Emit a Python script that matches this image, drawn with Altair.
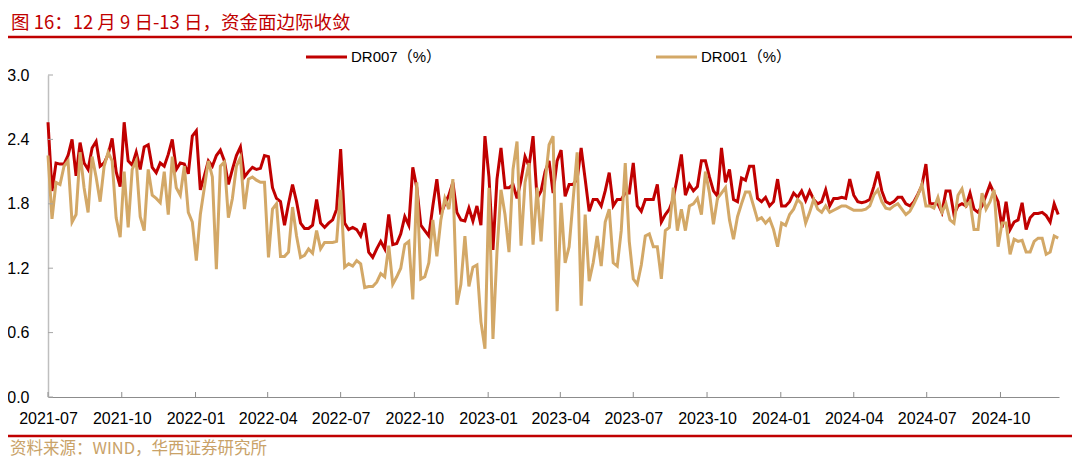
import altair as alt
import pandas as pd

TITLE = "图 16：12 月 9 日-13 日，资金面边际收敛"
SOURCE = "资料来源：WIND，华西证券研究所"
SERIES = ["DR007（%）", "DR001（%）"]
COLORS = ["#C00000", "#D3A867"]
START = "2021-07-01"
END = "2024-12-13"
STEP = "5D"
Y_TICKS = [0.0, 0.6, 1.2, 1.8, 2.4, 3.0]
X_TICKS = ["2021-07", "2021-10", "2022-01", "2022-04", "2022-07", "2022-10", "2023-01",
           "2023-04", "2023-07", "2023-10", "2024-01", "2024-04", "2024-07", "2024-10"]

dr007 = [
    2.56, 1.92, 2.18, 2.17, 2.17, 2.25, 2.40, 2.06, 2.37, 2.18,
    2.12, 2.32, 2.38, 2.15, 2.18, 2.26, 2.41, 2.10, 1.96, 2.56,
    2.20, 2.16, 2.28, 2.12, 2.33, 2.35, 2.14, 2.09, 2.18, 2.15,
    2.26, 2.40, 2.12, 2.18, 2.17, 2.08, 2.43, 2.48, 1.93, 2.06,
    2.20, 2.15, 2.25, 2.30, 2.20, 1.98, 2.12, 2.25, 2.33, 2.05,
    2.10, 2.14, 2.12, 2.13, 2.25, 2.24, 1.95, 1.85, 1.82, 1.60,
    1.80, 1.98, 1.82, 1.62, 1.57, 1.57, 1.60, 1.84, 1.62, 1.58,
    1.62, 1.65, 1.75, 2.31, 1.62, 1.56, 1.58, 1.56, 1.50, 1.62,
    1.35, 1.30, 1.38, 1.45, 1.38, 1.70, 1.42, 1.43,
    1.52, 1.68, 1.60, 2.14, 1.95, 1.60, 1.55, 1.50, 1.78, 2.03,
    1.70, 1.80, 1.88, 2.00, 1.72, 1.65, 1.64, 1.76, 1.64, 1.78,
    1.60, 2.43, 2.05, 1.37, 2.03, 2.32, 1.95, 1.95, 1.98, 1.85,
    2.02, 2.24, 2.15, 2.43, 1.85, 1.92, 2.10, 2.20, 1.90, 2.20,
    2.30, 1.87, 1.98, 1.98, 2.03, 2.32, 2.03, 1.73, 1.84, 1.84,
    1.78, 1.92, 2.09, 1.78, 1.84, 1.84, 1.90, 1.90, 2.18, 1.78,
    1.73, 1.84, 1.84, 1.84, 1.98, 1.63, 1.70, 1.75, 1.85, 2.05,
    2.26, 1.88, 1.98, 1.92, 1.96, 2.20, 2.20, 2.05, 1.92, 1.87,
    2.32, 2.00, 2.12, 1.84, 1.82, 2.04, 2.02, 2.15, 2.15, 1.85,
    1.82, 1.86, 1.78, 1.82, 2.03, 1.78, 1.78, 1.82, 1.90, 1.86,
    1.92, 1.83, 1.92, 1.84, 1.80, 1.82, 1.93, 1.78, 1.85, 1.85,
    1.86, 1.85, 2.03, 1.88, 1.82, 1.81, 1.82, 1.84, 1.96, 2.10,
    1.92, 1.82, 1.80, 1.82, 1.86, 1.86, 1.80, 1.78, 1.82, 1.89,
    1.97, 2.17, 1.80, 1.80, 1.80, 1.72, 1.92, 1.92, 1.70, 1.78,
    1.80, 1.78, 1.90, 1.75, 1.72, 1.78, 1.88, 1.98, 1.90, 1.82,
    1.58, 1.82, 1.56, 1.63, 1.65, 1.81, 1.56, 1.67, 1.71, 1.71,
    1.72, 1.69, 1.63, 1.80, 1.70,
]

dr001 = [
    2.25, 1.66, 2.00, 1.98, 2.15, 2.20, 1.63, 1.70, 2.28, 1.95,
    1.72, 2.24, 2.05, 1.82, 2.15, 2.28, 2.20, 1.67, 1.49, 2.10,
    1.58, 2.12, 2.20, 1.68, 1.55, 2.12, 1.88, 1.85, 1.81, 2.10,
    1.70, 2.24, 1.95, 1.88, 2.15, 1.72, 1.63, 1.27, 1.70, 1.95,
    2.20, 2.05, 1.19, 2.15, 2.19, 1.67, 1.85, 2.15, 2.23, 1.75,
    2.03, 2.05, 2.02, 2.00, 2.00, 1.30, 1.75, 1.80, 1.31, 1.31,
    1.35, 1.77, 1.50, 1.30, 1.32, 1.38, 1.34, 1.55, 1.38, 1.44,
    1.44, 1.44, 1.45, 1.93, 1.21, 1.24, 1.22, 1.27, 1.24, 1.02,
    1.03, 1.03, 1.07, 1.15, 1.12, 1.41, 1.05, 1.12,
    1.20, 1.42, 1.45, 0.91, 2.00, 1.10, 1.12, 1.25, 1.65, 1.31,
    1.65, 1.85, 1.75, 2.03, 0.86, 1.05, 1.50, 1.03, 1.21, 1.23,
    0.70, 0.45, 1.95, 0.54, 1.35, 1.93, 1.70, 1.35, 2.12, 2.38,
    1.41, 2.00, 2.18, 1.42, 1.95, 1.45, 2.00, 2.35, 2.43, 0.80,
    1.81, 1.25, 1.40, 1.84, 2.28, 0.85, 1.70, 1.08, 1.25, 1.50,
    1.22, 1.63, 1.75, 1.25, 1.22, 1.55, 2.18, 1.45, 1.10, 1.05,
    1.23, 1.50, 1.52, 1.40, 1.40, 1.10, 1.55, 1.58, 1.95, 1.55,
    1.75, 1.55, 1.78, 1.80, 1.85, 1.70, 2.10, 1.90, 1.61, 1.85,
    1.90, 1.95, 1.65, 1.47, 1.68, 1.80, 1.91, 1.91, 1.78, 1.65,
    1.67, 1.62, 1.66, 1.56, 1.40, 1.62, 1.60, 1.70, 1.75, 1.84,
    1.80, 1.62, 1.72, 1.84, 1.75, 1.72, 1.78, 1.72, 1.74, 1.76,
    1.78, 1.78, 1.76, 1.74, 1.74, 1.74, 1.75, 1.78, 1.88, 1.93,
    1.82, 1.76, 1.75, 1.78, 1.80, 1.75, 1.70, 1.73, 1.80, 1.88,
    1.98, 1.78, 1.78, 1.76, 1.86, 1.72, 1.80, 1.65, 1.62, 1.88,
    1.94, 1.78, 1.82, 1.56, 1.56, 1.90, 1.75, 1.82, 1.93, 1.40,
    1.62, 1.62, 1.33, 1.47, 1.45, 1.46, 1.35, 1.35, 1.45, 1.48,
    1.48, 1.33, 1.35, 1.50, 1.48,
]

LATIN = "Liberation Sans, Arial, Noto Sans CJK SC"
CJK = "Noto Sans CJK SC"
W, H = 1011, 322

dates = pd.date_range(START, periods=len(dr007), freq=STEP)
df7 = pd.DataFrame({"date": dates, "value": dr007})
df1 = pd.DataFrame({"date": dates, "value": dr001})


def dt(s):
    return alt.DateTime(year=int(s[:4]), month=int(s[5:7]), date=int(s[8:10]) if len(s) > 7 else 1)


xscale = alt.Scale(domain=[dt(START), dt(END)])
yscale = alt.Scale(domain=[0, 3], nice=False, zero=True)

xaxis = alt.Axis(
    title=None, format="%Y-%m", values=[dt(s) for s in X_TICKS], ticks=False,
    labelFlush=False, labelOverlap=False, labelPadding=13, grid=False,
    domainColor="#8C8C8C", domainWidth=1, labelFont=LATIN, labelFontSize=16,
    labelColor="#000000",
)
yaxis = alt.Axis(
    title=None, values=Y_TICKS, format=".1f", ticks=False, labelFlush=False,
    labelPadding=19, grid=False, domainColor="#BFBFBF", domainWidth=1.5,
    labelFont=LATIN, labelFontSize=16, labelColor="#000000",
)

line7 = alt.Chart(df7).mark_line(color=COLORS[0], strokeWidth=3).encode(
    x=alt.X("date:T", scale=xscale, axis=xaxis),
    y=alt.Y("value:Q", scale=yscale, axis=yaxis),
)
line1 = alt.Chart(df1).mark_line(color=COLORS[1], strokeWidth=3).encode(
    x=alt.X("date:T", scale=xscale, axis=xaxis),
    y=alt.Y("value:Q", scale=yscale, axis=yaxis),
)

xt = pd.DataFrame({"date": pd.to_datetime([s + "-01" for s in X_TICKS])})
xticks = alt.Chart(xt).mark_rule(color="#8C8C8C", strokeWidth=1).encode(
    x=alt.X("date:T", scale=xscale, axis=xaxis),
    y=alt.value(H), y2=alt.value(H - 5),
)
yt = pd.DataFrame({"value": Y_TICKS})
yticks = alt.Chart(yt).mark_rule(color="#A6A6A6", strokeWidth=1).encode(
    y=alt.Y("value:Q", scale=yscale, axis=yaxis),
    x=alt.value(0), x2=alt.value(5),
)

one = pd.DataFrame({"a": [0]})
title = alt.Chart(pd.DataFrame({"t": [TITLE]})).mark_text(
    align="left", baseline="middle", font=CJK, fontSize=18.5, color="#C00000"
).encode(x=alt.value(-37), y=alt.value(-52), text="t:N")
top_rule = alt.Chart(one).mark_rule(color="#C00000", strokeWidth=2.5).encode(
    x=alt.value(-48), x2=alt.value(W + 40), y=alt.value(-38)
)
bottom_rule = alt.Chart(one).mark_rule(color="#C00000", strokeWidth=2.5).encode(
    x=alt.value(-48), x2=alt.value(W + 40), y=alt.value(361)
)
source = alt.Chart(pd.DataFrame({"t": [SOURCE]})).mark_text(
    align="left", baseline="middle", font=CJK, fontSize=16.5, color="#C9A268"
).encode(x=alt.value(-38), y=alt.value(374), text="t:N")

legend_layers = []
LEG_X = [258, 608]
for i, name in enumerate(SERIES):
    legend_layers.append(
        alt.Chart(one).mark_rule(color=COLORS[i], strokeWidth=3).encode(
            x=alt.value(LEG_X[i]), x2=alt.value(LEG_X[i] + 41), y=alt.value(-18)
        )
    )
    legend_layers.append(
        alt.Chart(pd.DataFrame({"t": [name]})).mark_text(
            align="left", baseline="middle", font=LATIN, fontSize=15, color="#000000"
        ).encode(x=alt.value(LEG_X[i] + 45), y=alt.value(-18), text="t:N")
    )

chart = alt.layer(
    line7, line1, xticks, yticks, title, top_rule, bottom_rule, source, *legend_layers
).properties(
    width=W, height=H,
    padding={"left": 40, "top": 67, "right": 13, "bottom": 63},
    autosize=alt.AutoSizeParams(type="none"),
).configure_view(stroke=None)

chart.save("out.html", embed_options={"renderer": "svg", "actions": False})
